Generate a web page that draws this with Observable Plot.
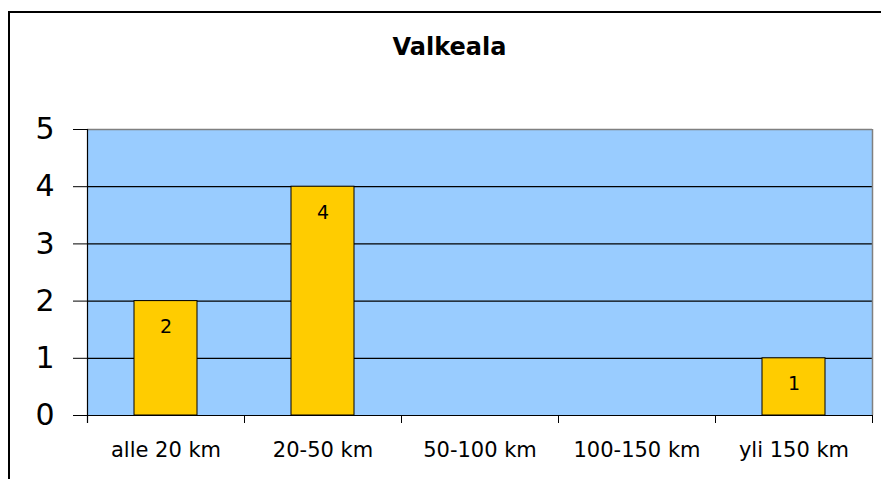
<!DOCTYPE html>
<html>
<head>
<meta charset="utf-8">
<script src="https://cdn.jsdelivr.net/npm/d3@7"></script>
<script src="https://cdn.jsdelivr.net/npm/@observablehq/plot@0.6"></script>
<style>
  html, body { margin: 0; padding: 0; background: #fff; }
  #wrap { position: relative; width: 881px; height: 479px; overflow: hidden; font-family: "DejaVu Sans", sans-serif; }
  #chart { position: absolute; left: 0; top: 0; }
  #chart svg { background: transparent !important; }
  #frame { position: absolute; left: 8px; top: 11px; width: 900px; height: 500px; border-left: 2px solid #000; border-top: 2px solid #000; pointer-events: none; }
  #title { position: absolute; left: 9px; top: 35px; width: 881px; text-align: center; font: bold 24px/24px "DejaVu Sans", sans-serif; color: #000; }
</style>
</head>
<body>
<div id="wrap">
  <div id="chart"></div>
  <div id="frame"></div>
  <div id="title">Valkeala</div>
</div>
<script>
const categories = ["alle 20 km", "20-50 km", "50-100 km", "100-150 km", "yli 150 km"];
const counts = [2, 4, 0, 0, 1];
const yTicks = [0, 1, 2, 3, 4, 5];

const W = 881, H = 479;
const mL = 87, mR = 9, mT = 129, mB = 64;
const step = (W - mL - mR) / categories.length;

const rows = categories.map((c, i) => ({category: c, count: counts[i]}));
const nonzero = rows.filter(d => d.count > 0);

const chart = Plot.plot({
  width: W,
  height: H,
  marginLeft: mL,
  marginRight: mR,
  marginTop: mT,
  marginBottom: mB,
  style: {fontFamily: "DejaVu Sans, sans-serif", background: "transparent", color: "#000"},
  x: {domain: categories, paddingInner: 0.6, paddingOuter: 0.3, label: null},
  y: {domain: [0, 5], label: null},
  marks: [
    Plot.frame({fill: "#99CCFF", stroke: "none"}),
    Plot.ruleY([yTicks[yTicks.length - 1]], {stroke: "#808080", strokeWidth: 1.5}),
    Plot.ruleY(yTicks.slice(0, -1), {stroke: "#000", strokeWidth: 1.2}),
    // right edge of plot area (gray)
    Plot.ruleX([categories[categories.length - 1]], {dx: step / 2, y1: 5, y2: 0, stroke: "#808080", strokeWidth: 1.5}),
    // left axis line with bottom tick
    Plot.ruleX([categories[0]], {dx: -step / 2, y1: 5, y2: 0, insetBottom: -8, stroke: "#000", strokeWidth: 1.2}),
    // category boundary ticks
    Plot.ruleX(categories.slice(1), {dx: -step / 2, y1: 0, y2: 0, insetBottom: -8, stroke: "#000"}),
    Plot.ruleX([categories[categories.length - 1]], {dx: step / 2, y1: 0, y2: 0, insetBottom: -8, stroke: "#000"}),
    Plot.barY(nonzero, {x: "category", y: "count", fill: "#FFCC00", stroke: "#000", strokeWidth: 1}),
    Plot.text(nonzero, {x: "category", y: "count", text: d => String(d.count), dy: 26, fontSize: 19, fill: "#000"}),
    Plot.axisY({ticks: yTicks, tickSize: 14, tickPadding: 19, fontSize: 30, stroke: "#000", fill: "#000", tickFormat: d => String(d)}),
    Plot.axisX({tickSize: 0, tickPadding: 27, fontSize: 21, fill: "#000"})
  ]
});
document.getElementById("chart").appendChild(chart);
</script>
</body>
</html>
